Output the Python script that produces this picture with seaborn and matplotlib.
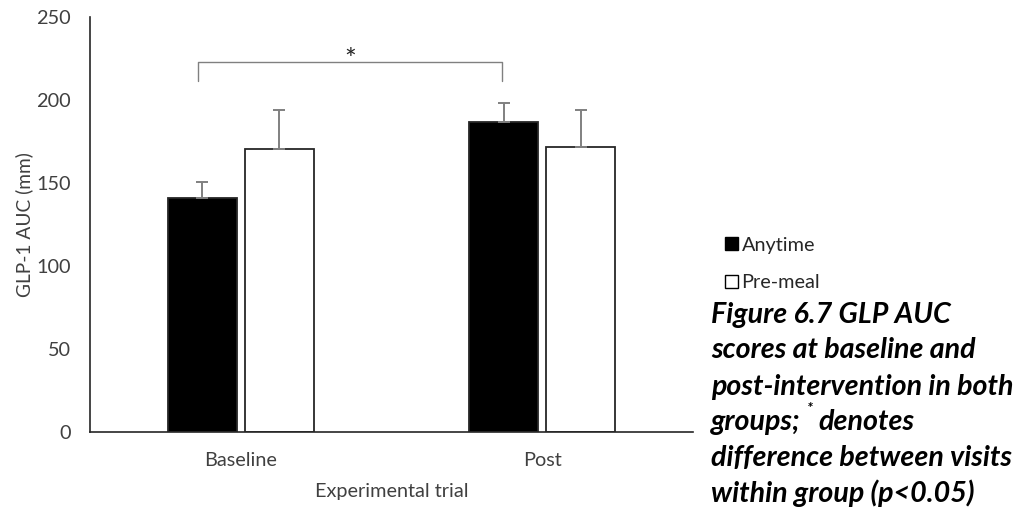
import matplotlib
matplotlib.use("Agg")
import matplotlib.pyplot as plt
import seaborn as sns
import pandas as pd
from matplotlib.patches import Patch

# ---- data ----
trials = ["Baseline", "Post"]
groups = ["Anytime", "Pre-meal"]
anytime_means = [141, 187]
premeal_means = [170.5, 172]
anytime_err = [10, 11.5]
premeal_err = [23.7, 22.3]
yticks = [0, 50, 100, 150, 200, 250]
caption_lines = ["Figure 6.7 GLP AUC", "scores at baseline and",
                 "post-intervention in both", "groups;", "denotes",
                 "difference between visits", "within group (p<0.05)"]
bracket_y = [212, 223, 223, 212]

sns.set_theme(style="white")
plt.rcParams['font.family'] = ['Lato', 'DejaVu Sans']

df = pd.DataFrame({
    "trial": trials * 2,
    "group": [groups[0]] * 2 + [groups[1]] * 2,
    "value": anytime_means + premeal_means,
})
errs = {groups[0]: anytime_err, groups[1]: premeal_err}

fig = plt.figure(figsize=(10.18, 5.07), dpi=100)
ax = fig.add_axes([0.0887, 0.1473, 0.5918, 0.8182])

sns.barplot(data=df, x="trial", y="value", hue="group", order=trials,
            hue_order=groups, palette=["black", "white"], edgecolor="#262626",
            linewidth=1.3, width=0.511, gap=0.1, errorbar=None, legend=False, ax=ax)

grey = "#808080"
for cont, g in zip(ax.containers, groups):
    xs = [p.get_x() + p.get_width() / 2 for p in cont.patches]
    hs = [p.get_height() for p in cont.patches]
    ax.errorbar(xs, hs, yerr=[[0] * len(xs), errs[g]], fmt="none",
                ecolor=grey, elinewidth=1.4, capsize=4, capthick=1.4, zorder=1)

ax.set_xlim(-0.5, 1.5)
ax.set_ylim(0, 250)
ax.set_yticks(yticks)
ax.tick_params(axis="both", length=0, labelsize=14.3, labelcolor="#404040")
ax.tick_params(axis="x", pad=14)
ax.tick_params(axis="y", pad=14)
for s in ["top", "right"]:
    ax.spines[s].set_visible(False)
for s in ["left", "bottom"]:
    ax.spines[s].set_color("#262626")
    ax.spines[s].set_linewidth(1.2)
ax.set_xlabel("Experimental trial", fontsize=14.3, color="#404040", labelpad=10)
ax.set_ylabel("GLP-1 AUC (mm)", fontsize=13.8, color="#404040", labelpad=2)

# significance bracket between Anytime bars
ac = ax.containers[0].patches
x0 = ac[0].get_x() + ac[0].get_width() / 2 - 0.015
x1 = ac[1].get_x() + ac[1].get_width() / 2 - 0.005
ax.plot([x0, x0, x1, x1], bracket_y, color=grey, lw=1.0, clip_on=False)
ax.text((x0 + x1) / 2, 224, "*", ha="center", va="center", fontsize=20, color="#262626")

# legend
handles = [Patch(facecolor="black", edgecolor="black"),
           Patch(facecolor="white", edgecolor="black")]
fig.legend(handles, groups, loc="upper left", bbox_to_anchor=(0.706, 0.545),
           frameon=False, fontsize=14.3, handlelength=0.65, handleheight=0.65,
           handletextpad=0.2, labelspacing=1.05, labelcolor="#262626",
           borderaxespad=0.0, borderpad=0.3)

# caption
cap_kw = dict(fontsize=20.6, fontweight="bold", fontstyle="italic", color="black",
              va="center", ha="left")
x_cap = 711 / 1018
ys = [315, 350, 386.7, 421.7, 458.3, 493.3]
fig.text(x_cap, 1 - ys[0] / 507, caption_lines[0], **cap_kw)
fig.text(x_cap, 1 - ys[1] / 507, caption_lines[1], **cap_kw)
fig.text(x_cap, 1 - ys[2] / 507, caption_lines[2], **cap_kw)
t = fig.text(x_cap, 1 - ys[3] / 507, caption_lines[3], **cap_kw)
fig.canvas.draw()
bb = t.get_window_extent(renderer=fig.canvas.get_renderer())
star = fig.text((bb.x1 + 6) / 1018, 1 - (ys[3] - 13) / 507, "*", fontsize=11,
                fontweight="bold", fontstyle="italic", color="black", va="center", ha="left")
fig.canvas.draw()
bb2 = star.get_window_extent(renderer=fig.canvas.get_renderer())
fig.text((bb2.x1 + 6) / 1018, 1 - ys[3] / 507, caption_lines[4], **cap_kw)
fig.text(x_cap, 1 - ys[4] / 507, caption_lines[5], **cap_kw)
fig.text(x_cap, 1 - ys[5] / 507, caption_lines[6], **cap_kw)

fig.savefig("out.png", dpi=100)
